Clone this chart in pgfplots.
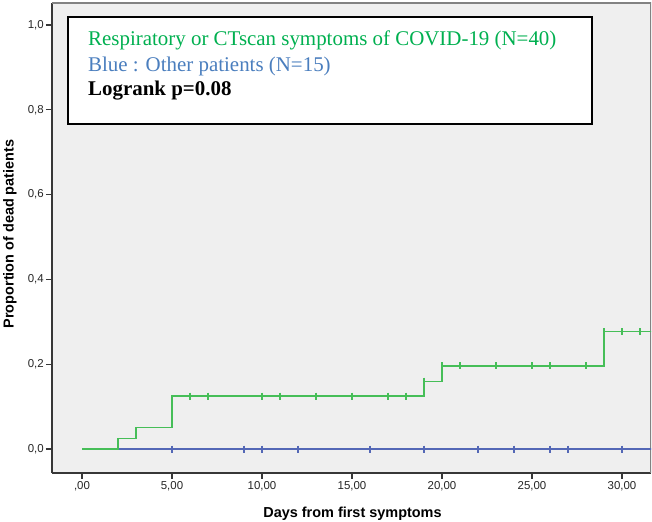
\documentclass[border=0pt]{standalone}
\usepackage{fontspec}
\setmainfont{Liberation Serif}
\setsansfont{Liberation Sans}
\usepackage{pgfplots}
\pgfplotsset{compat=1.18}
\definecolor{bgc}{RGB}{239,239,239}
\definecolor{glin}{RGB}{70,190,88}
\definecolor{blin}{RGB}{84,104,182}
\definecolor{gtxt}{RGB}{0,176,80}
\definecolor{btxt}{RGB}{74,126,190}
\definecolor{axdark}{RGB}{55,55,55}
\definecolor{axgrey}{RGB}{130,130,130}
\begin{document}
\begin{tikzpicture}
\useasboundingbox[fill=white] (0,0) rectangle (652bp,522bp);
\begin{axis}[
  at={(52bp,49bp)}, anchor=south west,
  scale only axis, width=599bp, height=470bp,
  xmin=-1.667, xmax=31.61, ymin=-0.0566, ymax=1.0519,
  axis lines*=left,
  axis line style={axdark, line width=1.2bp},
  axis background/.style={fill=bgc},
  tick align=outside, major tick length=6bp,
  tick style={axdark, line width=1.2bp},
  xtick={0,5,10,15,20,25,30},
  xticklabels={{,00},{5,00},{10,00},{15,00},{20,00},{25,00},{30,00}},
  ytick={0,0.2,0.4,0.6,0.8,1},
  yticklabels={{0,0},{0,2},{0,4},{0,6},{0,8},{1,0}},
  ticklabel style={font=\sffamily\fontsize{11.5}{13}\selectfont, text=black!85},
  xticklabel style={inner sep=2bp},
  yticklabel style={inner sep=2bp},
  xlabel={Days from first symptoms},
  ylabel={Proportion of dead patients},
  xlabel style={font=\sffamily\bfseries\fontsize{14.5}{16}\selectfont, at={(axis description cs:0.5017,-0.0957)}, anchor=base},
  ylabel style={font=\sffamily\bfseries\fontsize{14.5}{16}\selectfont, at={(axis description cs:-0.0701,0.5085)}, anchor=center, rotate=0},
]
% top and right grey border
\draw[axgrey, line width=1.2bp] (rel axis cs:0,1) -- (rel axis cs:1,1) -- (rel axis cs:1,0);
% Blue: other patients
\addplot[blin, line width=1.3bp, const plot] coordinates {(0,0) (32,0)};
\addplot[blin, only marks, mark=|, mark size=3.5bp, mark options={line width=1.1bp}] coordinates {
(5,0) (9,0) (10,0) (12,0) (16,0) (19,0) (22,0) (24,0) (26,0) (27,0) (30,0)};
% Green: respiratory or CT scan
\addplot[glin, line width=1.3bp, const plot] coordinates {
(0,0) (2,0.025) (3,0.05) (5,0.125) (19,0.16) (20,0.196) (29,0.277) (32,0.277)};
\addplot[glin, only marks, mark=|, mark size=3.5bp, mark options={line width=1.1bp}] coordinates {
(6,0.125) (7,0.125) (10,0.125) (11,0.125) (13,0.125) (15,0.125) (17,0.125) (18,0.125)
(19,0.16) (20,0.196) (21,0.196) (23,0.196) (25,0.196) (26,0.196) (28,0.196)
(29,0.277) (30,0.277) (31,0.277)};
% legend box
\draw[black, line width=1.3bp, fill=white] (axis cs:-0.778,1.019) rectangle (axis cs:28.33,0.7665);
\node[anchor=base west, inner sep=0, text=gtxt, font=\fontsize{21}{24}\selectfont] at (axis cs:0.333,0.9505) {Respiratory or CTscan symptoms of COVID-19 (N=40)};
\node[anchor=base west, inner sep=0, text=btxt, font=\fontsize{21}{24}\selectfont] at (axis cs:0.333,0.8915) {Blue : Other patients (N=15)};
\node[anchor=base west, inner sep=0, text=black, font=\bfseries\fontsize{21}{24}\selectfont] at (axis cs:0.333,0.8349) {Logrank p=0.08};
\end{axis}
\end{tikzpicture}
\end{document}
